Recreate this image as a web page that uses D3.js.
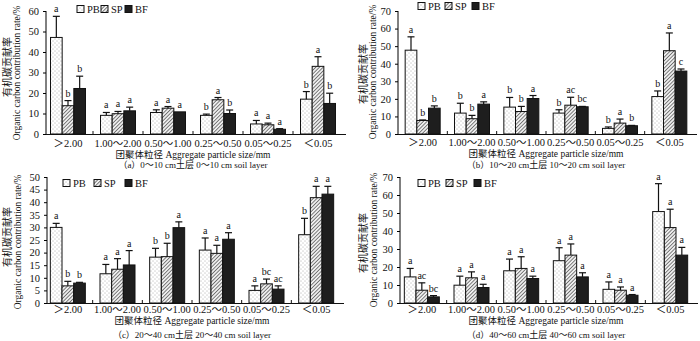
<!DOCTYPE html>
<html lang="zh">
<head>
  <meta charset="utf-8" />
  <title>Organic carbon contribution rate</title>
  <script src="https://d3js.org/d3.v7.min.js"></script>
  <style>
    body { margin: 0; background: #fff; }
    svg text { font-family: "Liberation Serif", "Noto Sans CJK SC", serif; fill: #111; }
  </style>
</head>
<body>
  <div id="chart"></div>
  <script>
    // categories + series
    var categories = ["＞2.00", "1.00～2.00", "0.50～1.00", "0.25～0.50", "0.05～0.25", "＜0.05"];
    var series = ["PB", "SP", "BF"];

    // (a) 0-10 cm : rows = PB, SP, BF
    var meanA = [[47.1, 9.1, 10.5, 9.1, 4.9, 17.0],
                 [13.8, 9.9, 12.6, 16.7, 4.5, 33.0],
                 [22.2, 11.3, 10.8, 10.0, 2.3, 14.9]];
    var errA  = [[10.3, 1.4, 1.3, 0.6, 1.7, 3.7],
                 [2.5, 1.1, 0.8, 1.1, 0.8, 4.7],
                 [6.0, 1.8, 0, 1.7, 0.3, 5.0]];
    var letA  = [["a", "a", "a", "b", "a", "b"],
                 ["b", "a", "a", "a", "a", "a"],
                 ["b", "a", "a", "b", "a", "b"]];

    // (b) 10-20 cm
    var meanB = [[47.7, 11.9, 15.3, 11.9, 3.2, 21.3],
                 [7.7, 8.7, 12.8, 16.4, 6.2, 47.4],
                 [14.7, 17.0, 20.2, 15.5, 4.7, 35.8]];
    var errB  = [[7.6, 5.6, 5.5, 1.9, 0.8, 3.2],
                 [0.3, 1.9, 2.9, 4.5, 2.3, 10.1],
                 [1.3, 1.3, 1.7, 0.2, 0.2, 1.2]];
    var letB  = [["a", "b", "b", "b", "b", "b"],
                 ["b", "b", "b", "ac", "a", "a"],
                 ["b", "a", "a", "bc", "b", "c"]];

    // (c) 20-40 cm
    var meanC = [[30.0, 11.6, 18.2, 21.0, 5.0, 27.1],
                 [6.8, 13.4, 18.4, 19.7, 7.6, 41.8],
                 [7.9, 15.1, 29.9, 25.3, 5.5, 43.2]];
    var errC  = [[1.6, 3.7, 3.5, 4.8, 1.8, 6.5],
                 [1.8, 4.2, 5.3, 3.2, 1.9, 4.5],
                 [0.3, 5.7, 2.3, 2.6, 1.3, 3.1]];
    var letC  = [["a", "a", "b", "a", "a", "b"],
                 ["b", "a", "b", "a", "bc", "a"],
                 ["b", "a", "a", "a", "ac", "a"]];

    // (d) 40-60 cm
    var meanD = [[14.5, 9.9, 17.9, 23.5, 7.6, 50.8],
                 [7.1, 14.0, 19.2, 26.6, 7.1, 41.9],
                 [3.4, 8.6, 13.6, 14.5, 4.3, 26.6]];
    var errD  = [[4.7, 5.0, 6.5, 7.2, 4.1, 15.5],
                 [4.1, 3.3, 6.5, 6.2, 1.8, 10.2],
                 [0.7, 1.8, 1.3, 2.3, 0.4, 4.3]];
    var letD  = [["a", "a", "a", "a", "a", "a"],
                 ["ac", "a", "a", "a", "a", "a"],
                 ["bc", "a", "a", "a", "a", "a"]];

    var captions = ["（a）0～10 cm土层 0～10 cm soil layer",
                    "（b）10～20 cm土层 10～20 cm soil layer",
                    "（c）20～40 cm土层 20～40 cm soil layer",
                    "（d）40～60 cm土层 40～60 cm soil layer"];

    var svg = d3.select("#chart").append("svg")
                .attr("width", 700)
                .attr("height", 341);

    // fill patterns
    var defs = svg.append("defs");
    var dots = defs.append("pattern").attr("id", "dots")
      .attr("patternUnits", "userSpaceOnUse").attr("width", 4).attr("height", 4);
    dots.append("rect").attr("width", 4).attr("height", 4).attr("fill", "#fff");
    dots.append("circle").attr("cx", 1).attr("cy", 1).attr("r", 0.45).attr("fill", "#555");
    dots.append("circle").attr("cx", 3).attr("cy", 3).attr("r", 0.45).attr("fill", "#555");

    var hatch = defs.append("pattern").attr("id", "hatch")
      .attr("patternUnits", "userSpaceOnUse").attr("width", 2.6).attr("height", 2.6)
      .attr("patternTransform", "rotate(45)");
    hatch.append("rect").attr("width", 2.6).attr("height", 2.6).attr("fill", "#eee");
    hatch.append("line").attr("x1", 0).attr("y1", 0).attr("x2", 0).attr("y2", 2.6)
      .attr("stroke", "#333").attr("stroke-width", 1.2);

    var fills = {PB: "url(#dots)", SP: "url(#hatch)", BF: "#1e1e1e"};

    // panel layout
    var panels = [
      {mean: meanA, err: errA, let: letA, max: 60, step: 10, x0: 43, x1: 343, ax: 46, top: 11, bot: 134,
       legX: 77, legY: 9, legGap: 24, cnX: 7, cnY: 67, enX: 16, enY: 73, cap: captions[0], tickY: 147, titY: 158, capY: 168},
      {mean: meanB, err: errB, let: letB, max: 70, step: 10, x0: 398, x1: 694, ax: 398, top: 11, bot: 134,
       legX: 418, legY: 6, legGap: 27, cnX: 363, cnY: 74, enX: 372, enY: 72, cap: captions[1], tickY: 146, titY: 157, capY: 168},
      {mean: meanC, err: errC, let: letC, max: 50, step: 5, x0: 43, x1: 341, ax: 47, top: 177, bot: 303,
       legX: 63, legY: 183, legGap: 31, cnX: 7, cnY: 237, enX: 17, enY: 242, cap: captions[2], tickY: 313, titY: 324, capY: 338},
      {mean: meanD, err: errD, let: letD, max: 70, step: 10, x0: 397, x1: 695, ax: 400, top: 177, bot: 303,
       legX: 418, legY: 183, legGap: 28, cnX: 363, cnY: 243, enX: 373, enY: 240, cap: captions[3], tickY: 313, titY: 324, capY: 338}
    ];

    panels.forEach(function(p) {
      var g = svg.append("g");

      var x = d3.scaleBand().domain(categories).range([p.x0, p.x1]);
      var xs = d3.scaleBand().domain(series).range([0, 35]);
      var y = d3.scaleLinear().domain([0, p.max]).range([p.bot, p.top]);

      // bars
      series.forEach(function(s, si) {
        var rows = categories.map(function(c, ci) {
          return {c: c, v: p.mean[si][ci], e: p.err[si][ci], l: p.let[si][ci]};
        });
        var gx = function(d) { return x(d.c) + (x.bandwidth() - 35) / 2 + xs(s); };

        g.selectAll(".bar" + s).data(rows).enter().append("rect")
          .attr("x", gx)
          .attr("y", function(d) { return y(d.v); })
          .attr("width", xs.bandwidth())
          .attr("height", function(d) { return y(0) - y(d.v); })
          .attr("fill", fills[s])
          .attr("stroke", "#111").attr("stroke-width", 1);

        // error bars (upper only)
        var eb = g.selectAll(".err" + s).data(rows.filter(function(d) { return d.e > 0; })).enter();
        eb.append("line")
          .attr("x1", function(d) { return gx(d) + xs.bandwidth() / 2; })
          .attr("x2", function(d) { return gx(d) + xs.bandwidth() / 2; })
          .attr("y1", function(d) { return y(d.v); })
          .attr("y2", function(d) { return y(d.v + d.e); })
          .attr("stroke", "#111").attr("stroke-width", 1.2);
        eb.append("line")
          .attr("x1", function(d) { return gx(d) + xs.bandwidth() / 2 - 3.5; })
          .attr("x2", function(d) { return gx(d) + xs.bandwidth() / 2 + 3.5; })
          .attr("y1", function(d) { return y(d.v + d.e); })
          .attr("y2", function(d) { return y(d.v + d.e); })
          .attr("stroke", "#111").attr("stroke-width", 1.2);

        // significance letters
        g.selectAll(".let" + s).data(rows).enter().append("text")
          .attr("x", function(d) { return gx(d) + xs.bandwidth() / 2; })
          .attr("y", function(d) { return y(d.v + d.e) - 4; })
          .attr("text-anchor", "middle")
          .attr("font-size", 10)
          .text(function(d) { return d.l; });
      });

      // y axis
      var yAxis = d3.axisLeft(y).tickValues(d3.range(0, p.max + 0.1, p.step))
        .tickSize(3).tickPadding(4);
      var ya = g.append("g").attr("transform", "translate(" + p.ax + ",0)").call(yAxis);
      ya.select(".domain").attr("d", "M0," + p.top + "V" + p.bot);
      ya.selectAll("text").attr("font-size", 10.5).style("font-family", null);

      // x axis line + group boundary ticks
      g.append("line").attr("x1", p.ax).attr("x2", p.x1 + 3)
        .attr("y1", p.bot + 0.5).attr("y2", p.bot + 0.5).attr("stroke", "#111");
      g.selectAll(".xt").data(categories.slice(1)).enter().append("line")
        .attr("x1", function(c) { return x(c); }).attr("x2", function(c) { return x(c); })
        .attr("y1", p.bot).attr("y2", p.bot - 3).attr("stroke", "#111");

      g.selectAll(".xl").data(categories).enter().append("text")
        .attr("x", function(c) { return x(c) + x.bandwidth() / 2; })
        .attr("y", p.tickY)
        .attr("text-anchor", "middle")
        .attr("font-size", 10.5)
        .text(function(c) { return c; });

      // axis titles
      var mid = (p.x0 + p.x1) / 2;
      g.append("text").attr("x", mid).attr("y", p.titY).attr("text-anchor", "middle")
        .attr("font-size", 9.5).text("团聚体粒径 Aggregate particle size/mm");
      g.append("text").attr("x", mid).attr("y", p.capY).attr("text-anchor", "middle")
        .attr("font-size", 9).text(p.cap);

      g.append("text").attr("transform", "translate(" + (p.cnX + 4) + "," + p.cnY + ") rotate(-90)")
        .attr("text-anchor", "middle").attr("font-size", 10).text("有机碳贡献率");
      g.append("text").attr("transform", "translate(" + (p.enX + 4) + "," + p.enY + ") rotate(-90)")
        .attr("text-anchor", "middle").attr("font-size", 9.5).text("Organic carbon contribution rate/%");

      // legend
      var leg = g.selectAll(".leg").data(series).enter().append("g")
        .attr("transform", function(s, i) { return "translate(" + (p.legX + i * p.legGap) + "," + p.legY + ")"; });
      leg.append("rect").attr("x", 0).attr("y", -3.5).attr("width", 7).attr("height", 7)
        .attr("fill", function(s) { return fills[s]; }).attr("stroke", "#111");
      leg.append("text").attr("x", 10).attr("y", 3.5).attr("font-size", 10.5)
        .text(function(s) { return s; });
    });
  </script>
</body>
</html>
